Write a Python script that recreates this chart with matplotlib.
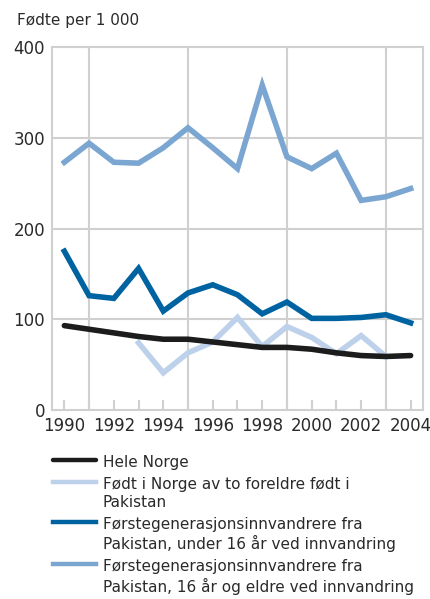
import matplotlib.pyplot as plt

# data 1990-2004, births per 1000 women
years = list(range(1990, 2005))
hele_norge = [93, 89, 85, 81, 78, 78, 75, 72, 69, 69, 67, 63, 60, 59, 60]
fodt_norge_years = list(range(1993, 2004))
fodt_norge = [74, 41, 63, 75, 102, 70, 92, 80, 62, 82, 59]
under16 = [175, 126, 123, 156, 109, 129, 138, 127, 106, 119, 101, 101, 102, 105, 96]
over16 = [273, 294, 273, 272, 289, 311, 289, 266, 358, 279, 266, 283, 231, 235, 244]

labels = ['Hele Norge',
          'Født i Norge av to foreldre født i\nPakistan',
          'Førstegenerasjonsinnvandrere fra\nPakistan, under 16 år ved innvandring',
          'Førstegenerasjonsinnvandrere fra\nPakistan, 16 år og eldre ved innvandring']
colors = ['#1c1c1c', '#bdd2ea', '#0063a1', '#7ba6d1']

plt.rcParams['font.family'] = ['DejaVu Sans']
fig = plt.figure(figsize=(4.31, 5.99), dpi=100)
ax = fig.add_axes([0.1206, 0.3155, 0.8608, 0.606])

lw = 4
ax.plot(years, over16, color=colors[3], lw=lw, label=labels[3], solid_joinstyle='miter', zorder=3)
ax.plot(years, under16, color=colors[2], lw=lw, label=labels[2], solid_joinstyle='miter', zorder=3)
ax.plot(fodt_norge_years, fodt_norge, color=colors[1], lw=lw, label=labels[1], solid_joinstyle='miter', zorder=3)
ax.plot(years, hele_norge, color=colors[0], lw=lw, label=labels[0], solid_capstyle='round', zorder=4)

ax.set_xlim(1989.5, 2004.5)
ax.set_ylim(0, 400)
ax.set_yticks([0, 100, 200, 300, 400])
ax.set_xticks(range(1990, 2005, 2))
ax.set_xticks(range(1990, 2005), minor=True)

grid_c = '#d0d0d0'
for yv in [100, 200, 300]:
    ax.axhline(yv, color=grid_c, lw=1.5, zorder=1)
for xv in [1991, 1995, 1999, 2003]:
    ax.axvline(xv, color=grid_c, lw=1.5, zorder=1)
for s in ax.spines.values():
    s.set_color(grid_c)
    s.set_linewidth(1.5)

ax.tick_params(axis='x', which='both', direction='in', length=7, width=1.5, color=grid_c,
               labelsize=12, labelcolor='#2a2a2a', pad=5)
ax.tick_params(axis='y', length=0, labelsize=12, labelcolor='#2a2a2a', pad=5)

fig.text(17 / 431, 1 - 20 / 599, 'Fødte per 1 000', fontsize=11, color='#2a2a2a', va='center', ha='left')

h, l = ax.get_legend_handles_labels()
leg = ax.legend(h[::-1], l[::-1], loc='upper left', bbox_to_anchor=(53 / 431, 1 - 455 / 599),
                bbox_transform=fig.transFigure, frameon=False, fontsize=11,
                handlelength=2.8, handletextpad=0.45, labelspacing=0.45, borderpad=0,
                borderaxespad=0)
for t in leg.get_texts():
    t.set_color('#2a2a2a')
    t.set_linespacing(1.25)
for ln in leg.get_lines():
    ln.set_linewidth(3.2)
# handles sit beside the first line of each label
for col in leg._legend_handle_box.get_children():
    for row in col.get_children():
        row.align = 'top'

fig.savefig('out.png', dpi=100)
